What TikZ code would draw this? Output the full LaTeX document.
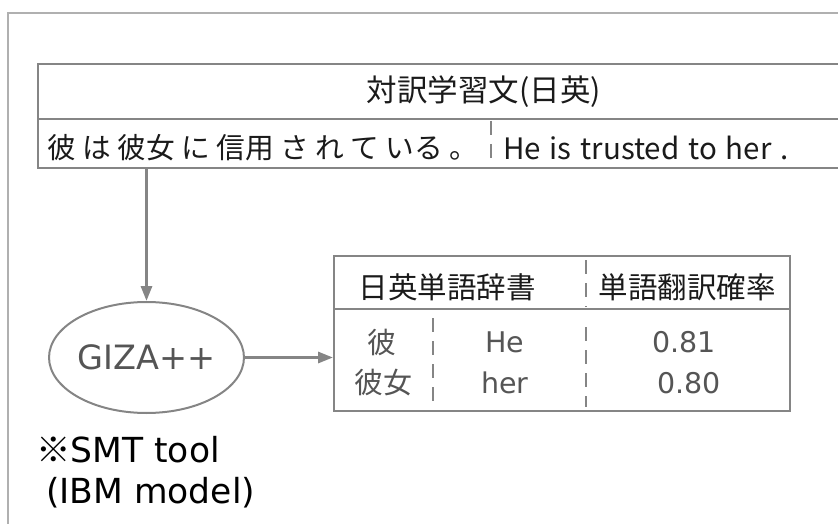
\documentclass[tikz,border=0pt]{standalone}
\usepackage{fontspec}
\setmainfont{Noto Sans CJK JP}
\newfontfamily\dv{DejaVu Sans}
\newfontfamily\cjk{Noto Sans CJK JP}
\usetikzlibrary{arrows.meta,shapes.geometric}
\definecolor{framegray}{HTML}{B0B0B0}
\definecolor{boxgray}{HTML}{858585}
\definecolor{txtgray}{HTML}{555555}
\definecolor{txtdark}{HTML}{1A1A1A}
\begin{document}
\begin{tikzpicture}[x=1pt,y=1pt,
  boxline/.style={draw=boxgray,line width=2pt},
  dashdiv/.style={draw=boxgray,line width=1.5pt,dash pattern=on 14pt off 9pt},
  arr/.style={draw=boxgray,line width=3pt,-{Triangle[length=15pt,width=11pt]}},
  jp/.style={font=\fontsize{29.5}{34}\selectfont,text=txtdark,inner sep=0pt},
  cell/.style={font=\dv\fontsize{28.5}{34}\selectfont,text=txtgray,inner sep=0pt},
  celljp/.style={font=\cjk\fontsize{29}{34}\selectfont,text=txtgray,inner sep=0pt},
  note/.style={font=\dv\fontsize{34.5}{40}\selectfont,text=black,inner sep=0pt,anchor=west}]
\useasboundingbox (0,0) rectangle (838,-524);
% outer frame
\draw[draw=framegray,line width=1.5pt] (8,-13) rectangle (860,-560);
% parallel corpus box
\node[boxline,anchor=north west,minimum width=830,minimum height=104,inner sep=0pt] (topbox) at (37,-63) {};
\draw[boxline] (37,-119) -- (870,-119);
\node[jp,font=\fontsize{30.5}{34}\selectfont] (hdr) at (484,-92) {対訳学習文(日英)};
\node[jp,anchor=west,font=\fontsize{28.7}{34}\selectfont] (jsent) at (47,-148) {彼 は 彼女 に 信用 さ れ て いる 。};
\node[jp,anchor=west,font=\fontsize{29.5}{34}\selectfont] (esent) at (503,-148) {\spaceskip=0.3em\relax He is trusted to her .};
\coordinate (sd1) at (491,-121);
\coordinate (sd2) at (491,-165);
\draw[dashdiv] (sd1) -- (sd2);
% GIZA++
\node[ellipse,draw=boxgray,line width=2pt,minimum width=179,minimum height=111,inner sep=0pt,
  font=\dv\fontsize{33.5}{38}\selectfont,text=txtgray] (giza) at (146.5,-357.5) {GIZA++};
% dictionary table
\node[boxline,anchor=north west,minimum width=456,minimum height=155,inner sep=0pt] (dict) at (333,-255) {};
\draw[boxline] (dict.west |- 0,-309) -- (dict.east |- 0,-309);
\coordinate (hd1) at (586,-260);
\coordinate (hd2) at (586,-307);
\draw[dashdiv] (hd1) -- (hd2);
\coordinate (bd1) at (586,-327);
\coordinate (bd2) at (586,-407);
\draw[dashdiv] (bd1) -- (bd2);
\coordinate (bl1) at (433,-318);
\coordinate (bl2) at (433,-403);
\draw[dashdiv] (bl1) -- (bl2);
\node[jp] (h1) at (447,-287) {日英単語辞書};
\node[jp] (h2) at (687,-287) {単語翻訳確率};
\node[celljp] (j1) at (382,-342) {彼};
\node[celljp] (j2) at (383,-383) {彼女};
\node[cell] (e1) at (505,-342) {He};
\node[cell] (e2) at (505,-383) {her};
\node[cell] (p1) at (684,-342) {0.81};
\node[cell] (p2) at (689,-383) {0.80};
% arrows
\draw[arr] (giza.north |- topbox.south) -- (giza.north);
\draw[arr] (giza.east) -- (dict.west |- giza.east);
% note
\node[note] (n1) at (36,-450) {{\cjk ※}SMT tool};
\node[note] (n2) at (46,-493) {(IBM model)};
\end{tikzpicture}
\end{document}
